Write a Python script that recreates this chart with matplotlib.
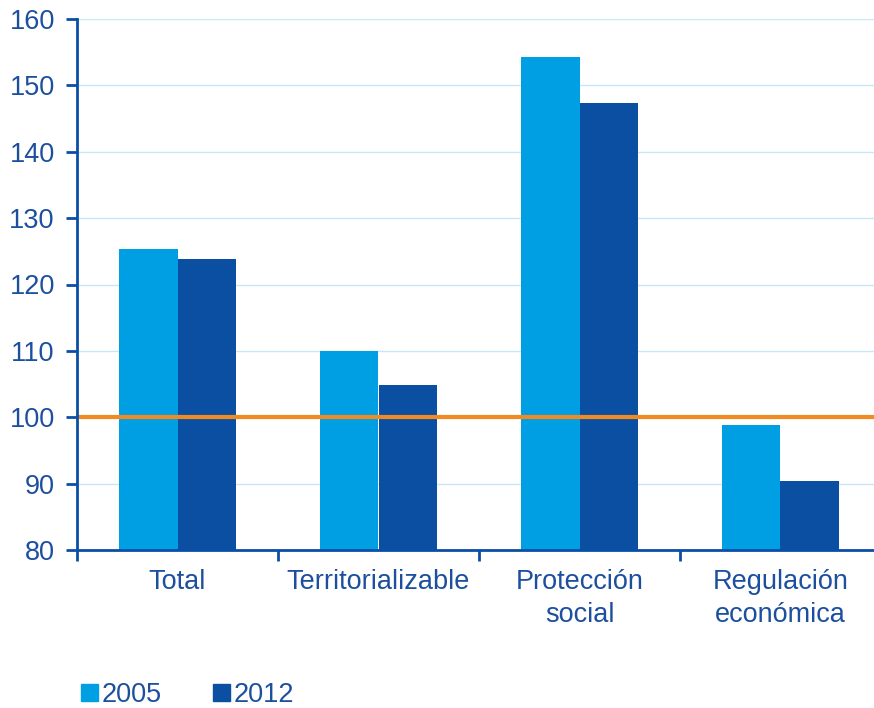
import matplotlib
matplotlib.use('Agg')
import matplotlib.pyplot as plt
import numpy as np
from matplotlib.patches import Patch

categories = ['Total', 'Territorializable', 'Protección\nsocial', 'Regulación\neconómica']
years = ['2005', '2012']
vals_2005 = [125.3, 110.0, 154.2, 98.8]
vals_2012 = [123.8, 104.8, 147.3, 90.4]
ref_level = 100

c2005 = '#009FE3'
c2012 = '#0B4FA2'
axis_blue = '#0B4EA6'
text_blue = '#1C4F9E'

plt.rcParams['font.family'] = ['Liberation Sans', 'DejaVu Sans']

fig = plt.figure(figsize=(8.74, 7.08), dpi=100)
ax = fig.add_axes([77/874, 158/708, 804/874, 531/708])

x = np.arange(len(categories))
w = 0.293
ax.bar(x - w/2, vals_2005, width=w, color=c2005, zorder=2)
ax.bar(x + w/2, vals_2012, width=w, color=c2012, zorder=2)
ax.axhline(ref_level, color='#F18A21', lw=3, zorder=3)

ax.set_ylim(80, 160)
ax.set_xlim(-0.5, len(categories) - 0.5)
ax.set_yticks(np.arange(80, 161, 10))
ax.yaxis.grid(True, color='#C8E6F6', lw=1, zorder=0)
ax.set_axisbelow(True)

ax.set_xticks(np.arange(-0.5, len(categories)), minor=False)
ax.set_xticklabels([])
ax.set_xticks(x, minor=True)
ax.set_xticklabels(categories, minor=True, linespacing=1.35)
ax.tick_params(axis='x', which='major', length=8, width=2, color=axis_blue, direction='out')
ax.tick_params(axis='x', which='minor', length=0, pad=14, labelsize=19.5, labelcolor=text_blue)
ax.tick_params(axis='y', length=8, width=2, color=axis_blue, labelsize=19.5, labelcolor=text_blue, pad=8)

for s in ['top', 'right']:
    ax.spines[s].set_visible(False)
for s in ['left', 'bottom']:
    ax.spines[s].set_color(axis_blue)
    ax.spines[s].set_linewidth(2)
    ax.spines[s].set_zorder(4)

handles = [Patch(color=c2005), Patch(color=c2012)]
fig.legend(handles, years, loc='lower left', bbox_to_anchor=(57/874, -0.035), ncol=2,
           frameon=False, fontsize=19.5, handlelength=0.6, handleheight=0.6,
           handletextpad=0.15, columnspacing=1.9, labelcolor=text_blue)

fig.savefig('out.png', dpi=100)
